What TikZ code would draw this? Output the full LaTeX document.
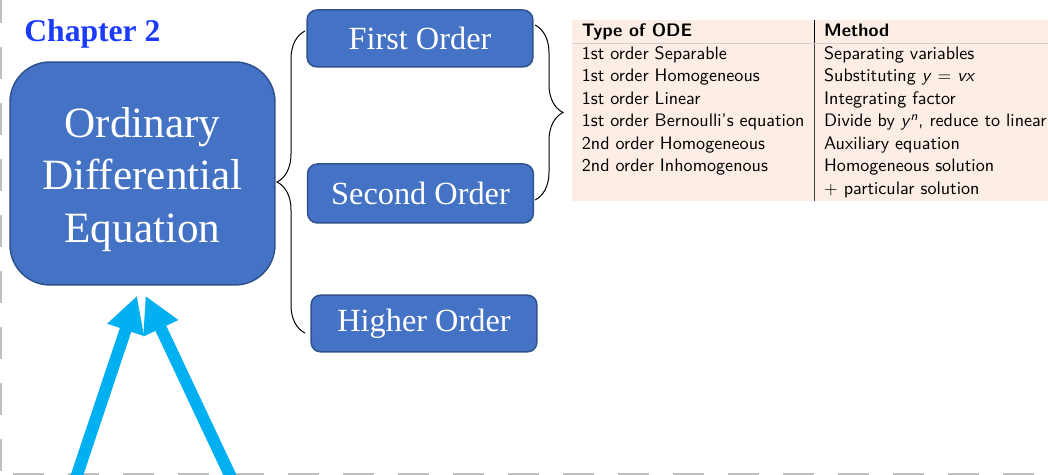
\documentclass[tikz,border=0pt]{standalone}
\usepackage{fontspec}
\setmainfont{Liberation Serif}
\usepackage{colortbl}
\usepackage{tikz}
\usetikzlibrary{arrows.meta}
\usetikzlibrary{calc}
\usetikzlibrary{decorations.pathreplacing}

\definecolor{boxblue}{RGB}{68,114,196}
\definecolor{boxline}{RGB}{47,82,143}
\definecolor{chapblue}{RGB}{26,58,255}
\definecolor{arrowcyan}{RGB}{0,176,240}
\definecolor{tablebg}{RGB}{252,238,228}
\definecolor{slidegray}{RGB}{191,191,191}

\tikzset{
  orderbox/.style={draw=boxline, fill=boxblue, line width=0.03cm,
    rounded corners=0.2cm, minimum width=4.52cm, minimum height=1.14cm,
    inner sep=0cm, text=white, font=\fontsize{18.4}{21}\selectfont},
  bigbox/.style={draw=boxline, fill=boxblue, line width=0.03cm,
    rounded corners=0.8cm, minimum width=5.3cm, minimum height=4.46cm,
    inner sep=0cm, text=white, align=center,
    font=\fontsize{24.6}{30}\selectfont},
  bracket/.style={draw, line width=0.02cm, decorate,
    decoration={brace, amplitude=0.56cm}},
  uparrow/.style={draw=arrowcyan, line width=0.24cm,
    -{Triangle[length=0.72cm, width=0.72cm]}},
  slidedash/.style={draw=slidegray, line width=0.03cm,
    dash pattern=on 0.64cm off 0.48cm}
}

\begin{document}
\begin{tikzpicture}[x=0.02cm, y=-0.02cm]

\useasboundingbox (0,0) rectangle (1048,475);

\draw[slidedash] (1,-9) -- (1,475);
\draw[slidedash, dash pattern=on 0.62cm off 0.48cm] (13,474) -- (1048,474);

\node[anchor=base west, inner sep=0cm, text=chapblue,
      font=\bfseries\fontsize{18}{21}\selectfont] (chapter) at (24,42) {Chapter 2};

\node[bigbox] (ode) at (142.5,173.5)
  {\rule{0pt}{24pt}Ordinary\\Differential\\Equation};

\node[orderbox] (first) at (420,38.5) {First Order};
\node[orderbox, minimum height=1.18cm] (second) at (420.5,193.5) {Second Order};
\node[orderbox] (higher) at (424,323.5) {Higher Order};

\coordinate (lbTop) at (305,31);
\coordinate (lbBottom) at (305,333);
\draw[bracket] (lbBottom) -- (lbTop);

\coordinate (rbTop) at (535,25);
\coordinate (rbBottom) at (535,200);
\draw[bracket] (rbTop) -- (rbBottom);

\node[anchor=north west, fill=tablebg, inner sep=0cm,
      font=\sffamily\fontsize{10.3}{12.8}\selectfont] (odetable) at (572,20) {%
\setlength{\tabcolsep}{0.19cm}%
\begin{tabular}{l|l}
\textbf{Type of ODE} & \textbf{Method}\\
\arrayrulecolor{black!18}\hline\arrayrulecolor{black!75}
1st order Separable & Separating variables\\
1st order Homogeneous & Substituting \textit{y} $=$ \textit{vx}\\
1st order Linear & Integrating factor\\
1st order Bernoulli's equation & Divide by \textit{y}\textsuperscript{\textit{n}}, reduce to linear\\
2nd order Homogeneous & Auxiliary equation\\
2nd order Inhomogenous & Homogeneous solution\\
 & $+$ particular solution
\end{tabular}};

\coordinate (tailL) at (72,490);
\coordinate (tailR) at (237,490);
\draw[uparrow] (tailL) -- ($(ode.south)+(-5.5,10)$);
\draw[uparrow] (tailR) -- ($(ode.south)+(3,10)$);

\end{tikzpicture}
\end{document}
